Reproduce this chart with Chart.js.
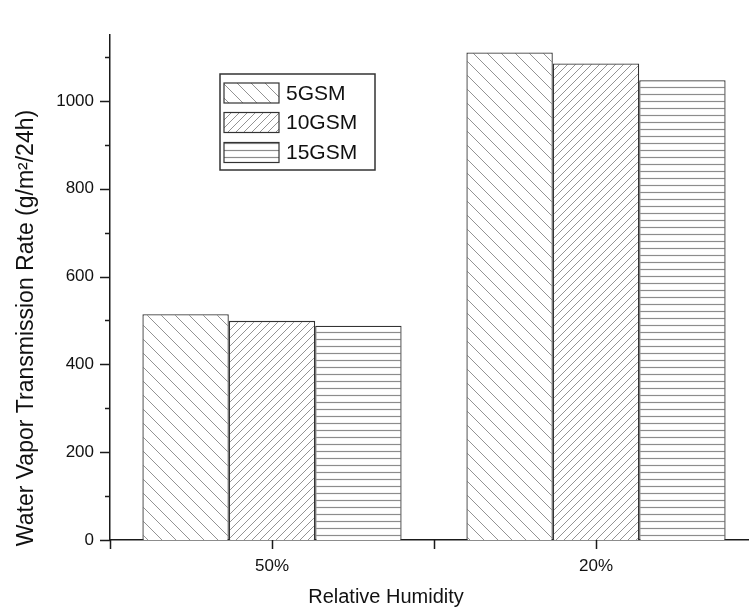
<!DOCTYPE html>
<html>
<head>
<meta charset="utf-8">
<script src="https://cdn.jsdelivr.net/npm/chart.js@4.4.1/dist/chart.umd.min.js"></script>
<style>
  html, body { margin: 0; padding: 0; background: #fff; overflow: hidden; width: 749px; height: 608px; }
  canvas { display: block; }
</style>
</head>
<body>
<canvas id="c" width="758" height="608"></canvas>
<script>
const categories = ['50%', '20%'];
const seriesNames = ['5GSM', '10GSM', '15GSM'];
const values5GSM = [514, 1110];
const values10GSM = [499, 1085];
const values15GSM = [488, 1047];
const yMajorTicks = [0, 200, 400, 600, 800, 1000];
const yMinorTicks = [100, 300, 500, 700, 900, 1100];
const xTitle = 'Relative Humidity';
const yTitle = 'Water Vapor Transmission Rate (g/m\u00B2/24h)';

function makePattern(kind) {
  const t = document.createElement('canvas');
  let s;
  if (kind === 'back') s = 14;
  else if (kind === 'fwd') s = 8;
  else s = 7;
  t.width = s; t.height = s;
  const g = t.getContext('2d');
  g.fillStyle = '#fff';
  g.fillRect(0, 0, s, s);
  g.strokeStyle = '#808080';
  g.lineWidth = 0.85;
  g.beginPath();
  if (kind === 'back') {
    g.moveTo(-2, -2); g.lineTo(s + 2, s + 2);
    g.moveTo(-2, s - 2); g.lineTo(2, s + 2);
    g.moveTo(s - 2, -2); g.lineTo(s + 2, 2);
  } else if (kind === 'fwd') {
    g.moveTo(-2, s + 2); g.lineTo(s + 2, -2);
    g.moveTo(-2, 2); g.lineTo(2, -2);
    g.moveTo(s - 2, s + 2); g.lineTo(s + 2, s - 2);
  } else {
    g.strokeStyle = '#8c8c8c';
    g.lineWidth = 1.2;
    g.moveTo(0, 3.5); g.lineTo(s, 3.5);
  }
  g.stroke();
  return document.getElementById('c').getContext('2d').createPattern(t, 'repeat');
}

const patterns = [makePattern('back'), makePattern('fwd'), makePattern('horiz')];
const seriesValues = [values5GSM, values10GSM, values15GSM];

const FONT = '"Liberation Sans", Arial, sans-serif';
const TEXT = '#111';
const AXIS = '#1a1a1a';

const decorPlugin = {
  id: 'decor',
  afterDraw(chart) {
    const ctx = chart.ctx;
    const xs = chart.scales.x, ys = chart.scales.y;
    const area = chart.chartArea;
    ctx.save();
    ctx.strokeStyle = AXIS;
    ctx.lineWidth = 1.5;
    ctx.beginPath();
    yMajorTicks.forEach(v => {
      const p = Math.round(ys.getPixelForValue(v)) + 0.5;
      ctx.moveTo(area.left - 10, p); ctx.lineTo(area.left, p);
    });
    yMinorTicks.forEach(v => {
      const p = Math.round(ys.getPixelForValue(v)) + 0.5;
      ctx.moveTo(area.left - 5, p); ctx.lineTo(area.left, p);
    });
    const c0 = xs.getPixelForValue(0), c1 = xs.getPixelForValue(1);
    const half = (c1 - c0) / 2;
    [c0 - half, c0, c0 + half, c1, c1 + half].forEach(px => {
      const p = Math.round(px) + 0.5;
      ctx.moveTo(p, area.bottom); ctx.lineTo(p, area.bottom + 9);
    });
    ctx.stroke();

    ctx.fillStyle = TEXT;
    ctx.font = '20px ' + FONT;
    ctx.textAlign = 'center';
    ctx.textBaseline = 'middle';
    ctx.fillText(xTitle, 386, 597);
    ctx.save();
    ctx.translate(27, 328);
    ctx.rotate(-Math.PI / 2);
    ctx.font = '23px ' + FONT;
    ctx.fillText(yTitle, 0, 0);
    ctx.restore();

    const lx = 220, ly = 74, lw = 155, lh = 96;
    ctx.fillStyle = '#fff';
    ctx.fillRect(lx, ly, lw, lh);
    ctx.strokeStyle = '#333';
    ctx.lineWidth = 1.5;
    ctx.strokeRect(lx, ly, lw, lh);
    const rows = [93, 122.5, 152.5];
    seriesNames.forEach((name, i) => {
      const by = rows[i] - 10;
      ctx.fillStyle = patterns[i];
      ctx.fillRect(224, by, 55, 20);
      ctx.strokeStyle = '#333';
      ctx.lineWidth = 1.2;
      ctx.strokeRect(224, by, 55, 20);
      ctx.fillStyle = TEXT;
      ctx.font = '21px ' + FONT;
      ctx.textAlign = 'left';
      ctx.textBaseline = 'middle';
      ctx.fillText(name, 286, rows[i] + 1);
    });
    ctx.restore();
  }
};

new Chart(document.getElementById('c'), {
  type: 'bar',
  data: {
    labels: categories,
    datasets: seriesNames.map((name, i) => ({
      label: name,
      data: seriesValues[i],
      backgroundColor: patterns[i],
      borderColor: '#333',
      borderWidth: 1.3,
      borderSkipped: 'bottom',
      barPercentage: 1.0,
      categoryPercentage: 0.8
    }))
  },
  options: {
    responsive: false,
    animation: false,
    events: [],
    layout: { padding: { top: 35, left: 0, right: 0, bottom: 0 } },
    plugins: { legend: { display: false }, tooltip: { enabled: false } },
    scales: {
      x: {
        offset: true,
        grid: { display: false, drawTicks: false },
        border: { display: true, color: AXIS, width: 1.5 },
        ticks: { color: TEXT, font: { family: FONT, size: 17 }, padding: 16 },
        afterFit(s) { s.height = 68; }
      },
      y: {
        min: 0,
        max: 1150,
        grid: { display: false, drawTicks: false },
        border: { display: true, color: AXIS, width: 1.5 },
        ticks: {
          stepSize: 200,
          color: TEXT,
          font: { family: FONT, size: 17 },
          padding: 16,
          callback: v => (v % 200 === 0 ? v : '')
        },
        afterFit(s) { s.width = 110; }
      }
    }
  },
  plugins: [decorPlugin]
});
</script>
</body>
</html>
